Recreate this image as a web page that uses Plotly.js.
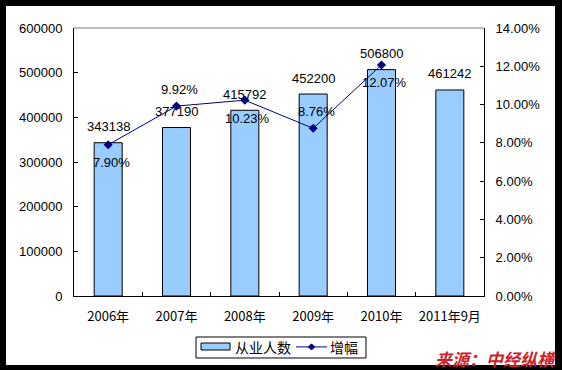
<!DOCTYPE html>
<html>
<head>
<meta charset="utf-8">
<script src="https://cdn.plot.ly/plotly-3.0.1.min.js"></script>
<style>
html,body{margin:0;padding:0;background:#000;width:562px;height:370px;overflow:hidden;}
#chart{position:absolute;left:6px;top:6px;width:549px;height:364px;background:#fff;}
</style>
</head>
<body>
<div id="chart"></div>
<script>
const categories = ['2006年','2007年','2008年','2009年','2010年','2011年9月'];
const employees = [343138, 377190, 415792, 452200, 506800, 461242];
const growthCats = ['2006年','2007年','2008年','2009年','2010年'];
const growthPct = [7.90, 9.92, 10.23, 8.76, 12.07];
const growthLabelSide = ['below','above','below','above','below'];
const legendNames = ['从业人数', '增幅'];
const sourceText = '来源：中经纵横';

const F = 'Arial, "Liberation Sans", "Noto Sans CJK SC", sans-serif';
const CJK = '"Noto Sans CJK SC", "Liberation Sans", sans-serif';
const BAR_COLOR = '#99CCFF', LINE_COLOR = '#000080';

const bars = {
  type: 'bar', name: legendNames[0], x: categories, y: employees,
  marker: {color: BAR_COLOR, line: {color: '#000', width: 1}},
  yaxis: 'y', showlegend: false
};
const line = {
  type: 'scatter', mode: 'lines+markers', name: legendNames[1],
  x: growthCats, y: growthPct, yaxis: 'y2', showlegend: false,
  line: {color: LINE_COLOR, width: 1},
  marker: {symbol: 'diamond', size: 7, color: LINE_COLOR}
};

const annotations = [];
categories.forEach((c, i) => {
  annotations.push({x: c, y: employees[i], xref: 'x', yref: 'y', text: String(employees[i]),
    showarrow: false, yshift: 16, font: {family: F, size: 13, color: '#000'}});
});
growthCats.forEach((c, i) => {
  const up = growthLabelSide[i] === 'above';
  annotations.push({x: c, y: growthPct[i], xref: 'x', yref: 'y2', text: growthPct[i].toFixed(2) + '%',
    showarrow: false, xshift: 3, yshift: up ? 17 : -18, font: {family: F, size: 13, color: '#000'}});
});
// legend texts
annotations.push({xref: 'paper', yref: 'paper', x: 0.3866, y: -0.192, xanchor: 'left', yanchor: 'middle',
  text: legendNames[0], showarrow: false, font: {family: CJK, size: 14, color: '#000'}});
annotations.push({xref: 'paper', yref: 'paper', x: 0.6195, y: -0.192, xanchor: 'left', yanchor: 'middle',
  text: legendNames[1], showarrow: false, font: {family: CJK, size: 14, color: '#000'}});
// source
annotations.push({xref: 'paper', yref: 'paper', x: 1.18, y: -0.232, xanchor: 'right', yanchor: 'middle',
  text: '<b><i>' + sourceText + '</i></b>', showarrow: false, borderpad: 0,
  font: {family: CJK, size: 17, color: '#CC2229'}});

const dx = 0.0075, dy = 0.0115, cx = 0.5793, cy = -0.190;
const shapes = [
  {type: 'line', xref: 'paper', yref: 'paper', x0: 0, x1: 1, y0: 1, y1: 1, line: {color: '#808080', width: 1}},
  {type: 'rect', xref: 'paper', yref: 'paper', x0: 0.2976, x1: 0.7122, y0: -0.153, y1: -0.2313,
    line: {color: '#000', width: 1}, fillcolor: '#fff'},
  {type: 'rect', xref: 'paper', yref: 'paper', x0: 0.3098, x1: 0.3805, y0: -0.1754, y1: -0.2015,
    line: {color: '#000', width: 1}, fillcolor: BAR_COLOR},
  {type: 'line', xref: 'paper', yref: 'paper', x0: 0.5415, x1: 0.6171, y0: cy, y1: cy,
    line: {color: LINE_COLOR, width: 1}},
  {type: 'path', xref: 'paper', yref: 'paper',
    path: `M ${cx} ${cy+dy} L ${cx+dx} ${cy} L ${cx} ${cy-dy} L ${cx-dx} ${cy} Z`,
    line: {color: LINE_COLOR, width: 1}, fillcolor: LINE_COLOR},
  // black frame strip at bottom
  {type: 'rect', xref: 'paper', yref: 'paper', x0: -0.2, x1: 1.2, y0: -0.2575, y1: -0.3,
    line: {width: 0}, fillcolor: '#000'}
];

const layout = {
  width: 549, height: 364,
  margin: {l: 68, r: 71, t: 22, b: 74},
  paper_bgcolor: '#fff', plot_bgcolor: '#fff',
  showlegend: false,
  bargap: 0.59,
  xaxis: {
    type: 'category', showline: true, linecolor: '#000', linewidth: 1,
    ticks: 'inside', ticklen: 4, tickcolor: '#000', tickson: 'boundaries',
    showgrid: false, zeroline: false, ticklabelstandoff: 8, tickangle: 0, automargin: false,
    tickfont: {family: CJK, size: 13, color: '#000'}
  },
  yaxis: {
    range: [0, 600000], dtick: 100000, tick0: 0, showline: true, linecolor: '#000', linewidth: 1,
    ticks: 'inside', ticklen: 4, tickcolor: '#000', showgrid: false, zeroline: false,
    tickformat: 'd', ticklabelstandoff: 8, automargin: false,
    tickfont: {family: F, size: 13, color: '#000'}
  },
  yaxis2: {
    overlaying: 'y', side: 'right', range: [0, 14], dtick: 2, tick0: 0,
    showline: true, linecolor: '#000', linewidth: 1,
    ticks: 'inside', ticklen: 4, tickcolor: '#000', showgrid: false, zeroline: false,
    ticksuffix: '%', tickformat: '.2f', ticklabelstandoff: 8, automargin: false,
    tickfont: {family: F, size: 13, color: '#000'}
  },
  shapes: shapes,
  annotations: annotations
};

Plotly.newPlot('chart', [bars, line], layout, {displayModeBar: false, staticPlot: true});
</script>
</body>
</html>
